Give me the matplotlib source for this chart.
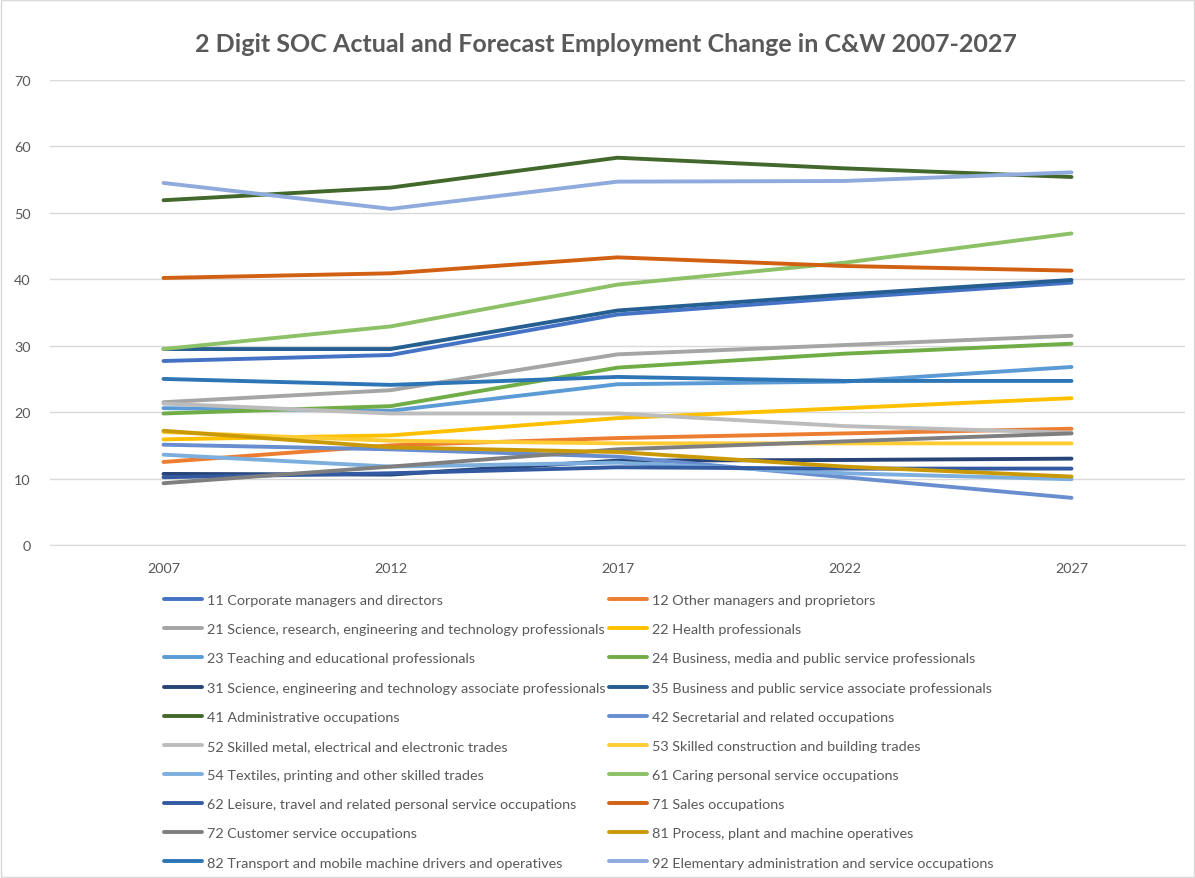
import numpy as np
import matplotlib
matplotlib.use("Agg")
import matplotlib.pyplot as plt
from matplotlib.patches import Rectangle

plt.rcParams['font.family'] = ['Lato', 'DejaVu Sans']

years = ['2007', '2012', '2017', '2022', '2027']

labels = [
    '11 Corporate managers and directors',
    '12 Other managers and proprietors',
    '21 Science, research, engineering and technology professionals',
    '22 Health professionals',
    '23 Teaching and educational professionals',
    '24 Business, media and public service professionals',
    '31 Science, engineering and technology associate professionals',
    '35 Business and public service associate professionals',
    '41 Administrative occupations',
    '42 Secretarial and related occupations',
    '52 Skilled metal, electrical and electronic trades',
    '53 Skilled construction and building trades',
    '54 Textiles, printing and other skilled trades',
    '61 Caring personal service occupations',
    '62 Leisure, travel and related personal service occupations',
    '71 Sales occupations',
    '72 Customer service occupations',
    '81 Process, plant and machine operatives',
    '82 Transport and mobile machine drivers and operatives',
    '92 Elementary administration and service occupations',
]

soc11 = [27.7, 28.6, 34.7, 37.2, 39.5]
soc12 = [12.5, 15.0, 16.1, 16.8, 17.5]
soc21 = [21.5, 23.3, 28.7, 30.1, 31.5]
soc22 = [15.9, 16.5, 19.1, 20.6, 22.1]
soc23 = [20.6, 20.2, 24.2, 24.6, 26.8]
soc24 = [19.8, 20.9, 26.7, 28.8, 30.3]
soc31 = [10.7, 10.6, 12.7, 12.8, 13.0]
soc35 = [29.5, 29.5, 35.3, 37.7, 39.9]
soc41 = [51.9, 53.8, 58.3, 56.7, 55.4]
soc42 = [15.1, 14.4, 13.3, 10.2, 7.1]
soc52 = [21.3, 19.8, 19.8, 17.9, 16.9]
soc53 = [17.0, 15.7, 15.3, 15.3, 15.3]
soc54 = [13.6, 11.8, 12.4, 10.8, 9.9]
soc61 = [29.5, 32.9, 39.2, 42.5, 46.9]
soc62 = [10.2, 10.8, 11.7, 11.5, 11.5]
soc71 = [40.2, 40.9, 43.3, 42.0, 41.3]
soc72 = [9.3, 11.8, 14.4, 15.6, 16.8]
soc81 = [17.2, 14.7, 14.0, 11.8, 10.3]
soc82 = [25.0, 24.1, 25.3, 24.7, 24.7]
soc92 = [54.5, 50.6, 54.7, 54.8, 56.1]

series = [soc11, soc12, soc21, soc22, soc23, soc24, soc31, soc35, soc41, soc42,
          soc52, soc53, soc54, soc61, soc62, soc71, soc72, soc81, soc82, soc92]

colors = ['#4472c4', '#ed7d31', '#a5a5a5', '#ffc000', '#5b9bd5', '#70ad47',
          '#264478', '#255e91', '#43682b', '#698ed0', '#bcbcbc', '#ffcd33',
          '#7cafdd', '#8cc168', '#335aa1', '#d26012', '#7f7f7f', '#c99a06',
          '#2e75b6', '#8faadc']

txt = '#595959'

fig = plt.figure(figsize=(11.95, 8.79), dpi=100)
ax = fig.add_axes([50/1195, 1-546/879, 1135/1195, 465/879])

x = np.arange(len(years))
lines = []
for vals, lab, c in zip(series, labels, colors):
    ln, = ax.plot(x, vals, color=c, lw=2.8, label=lab, solid_capstyle='round')
    lines.append(ln)

ax.set_xlim(-0.5, 4.5)
ax.set_ylim(0, 70)
ax.set_yticks(range(0, 71, 10))
ax.set_xticks(x)
ax.set_xticklabels(years)
ax.grid(axis='y', color='#d9d9d9', lw=1)
ax.set_axisbelow(True)
for s in ['top', 'right', 'left']:
    ax.spines[s].set_visible(False)
ax.spines['bottom'].set_color('#d9d9d9')
ax.tick_params(length=0, labelsize=10.4, labelcolor=txt)
ax.tick_params(axis='y', pad=14)
ax.tick_params(axis='x', pad=12)

fig.text(606/1195, 1-45/879, '2 Digit SOC Actual and Forecast Employment Change in C&W 2007-2027',
         ha='center', va='center', fontsize=18, fontweight='bold', color=txt)

legkw = dict(frameon=False, fontsize=10.4, labelcolor=txt, handlelength=2.6,
             handletextpad=0.4, labelspacing=1.18, borderpad=0, borderaxespad=0)
leg1 = fig.legend(handles=lines[0::2], loc='upper left',
                  bbox_to_anchor=(164/1195, 1-595/879), **legkw)
leg2 = fig.legend(handles=lines[1::2], loc='upper left',
                  bbox_to_anchor=(609/1195, 1-595/879), **legkw)

fig.patches.append(Rectangle((0.001, 0.001), 0.998, 0.998, transform=fig.transFigure,
                             fill=False, edgecolor='#d9d9d9', lw=1))

fig.savefig('out.png', dpi=100)
